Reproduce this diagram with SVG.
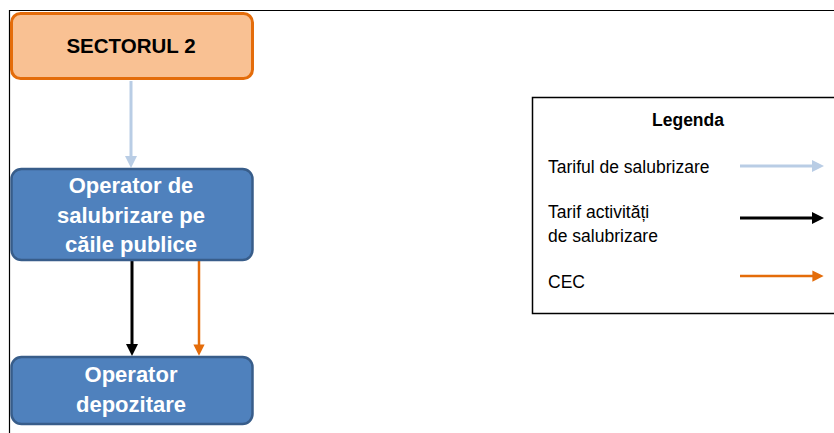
<svg xmlns="http://www.w3.org/2000/svg" width="834" height="433" viewBox="0 0 834 433">
<defs>
<style>
.node-o{fill:#F9C193;stroke:#E46C0A;stroke-width:3}
.node-b{fill:#4F81BD;stroke:#385D8A;stroke-width:2.5}
.t-b{font-family:"Liberation Sans",Arial,sans-serif;font-weight:bold;font-size:22px;fill:#ffffff;text-anchor:middle}
.t-o{font-family:"Liberation Sans",Arial,sans-serif;font-weight:bold;font-size:20.5px;fill:#000000;text-anchor:middle}
.t-l{font-family:"Liberation Sans",Arial,sans-serif;font-size:17.5px;fill:#000000}
.c-lb{stroke:#B9CDE5;stroke-width:3;fill:none}
.c-k{stroke:#000000;stroke-width:3;fill:none}
.c-or{stroke:#E46C0A;stroke-width:2.5;fill:none}
</style>
<marker id="m-lb" markerWidth="4" markerHeight="4" refX="2" refY="2" orient="auto" markerUnits="strokeWidth"><path d="M0,0 L4,2 L0,4 z" fill="#B9CDE5"/></marker>
<marker id="m-k" markerWidth="4" markerHeight="4" refX="2" refY="2" orient="auto" markerUnits="strokeWidth"><path d="M0,0 L4,2 L0,4 z" fill="#000000"/></marker>
<marker id="m-or" markerWidth="4.5" markerHeight="4.5" refX="2.25" refY="2.25" orient="auto" markerUnits="strokeWidth"><path d="M0,0 L4.5,2.25 L0,4.5 z" fill="#E46C0A"/></marker>
</defs>
<rect x="0" y="0" width="834" height="433" fill="#ffffff"/>
<path d="M9.5,433 L9.5,10.5 L834,10.5" fill="none" stroke="#000000" stroke-width="1.2"/>
<g id="connectors">
<line class="c-lb" x1="131" y1="81" x2="131" y2="162" marker-end="url(#m-lb)"/>
<line class="c-k" x1="132" y1="260" x2="132" y2="350" marker-end="url(#m-k)"/>
<line class="c-or" x1="199" y1="260" x2="199" y2="350" marker-end="url(#m-or)"/>
</g>
<g id="sectorul2">
<rect class="node-o" x="11.5" y="13.5" width="241" height="65" rx="9"/>
<text class="t-o" x="131" y="53">SECTORUL 2</text>
</g>
<g id="operator-salubrizare">
<rect class="node-b" x="11.5" y="169" width="241" height="91" rx="10"/>
<text class="t-b" x="131" y="193">Operator de</text>
<text class="t-b" x="131" y="223">salubrizare pe</text>
<text class="t-b" x="131" y="252">căile publice</text>
</g>
<g id="operator-depozitare">
<rect class="node-b" x="11.5" y="357" width="241" height="67" rx="10"/>
<text class="t-b" x="131" y="382">Operator</text>
<text class="t-b" x="131" y="412">depozitare</text>
</g>
<g id="legenda">
<rect x="532.5" y="97.5" width="310" height="216" fill="#ffffff" stroke="#000000" stroke-width="1.5"/>
<text class="t-l" x="688" y="126" text-anchor="middle" font-weight="bold">Legenda</text>
<text class="t-l" x="548" y="173">Tariful de salubrizare</text>
<text class="t-l" x="548" y="218">Tarif activități</text>
<text class="t-l" x="548" y="242">de salubrizare</text>
<text class="t-l" x="548" y="288">CEC</text>
<line class="c-lb" x1="740" y1="166" x2="818" y2="166" marker-end="url(#m-lb)"/>
<line class="c-k" x1="740" y1="218" x2="818" y2="218" marker-end="url(#m-k)"/>
<line class="c-or" x1="740" y1="276" x2="818" y2="276" marker-end="url(#m-or)"/>
</g>
</svg>
